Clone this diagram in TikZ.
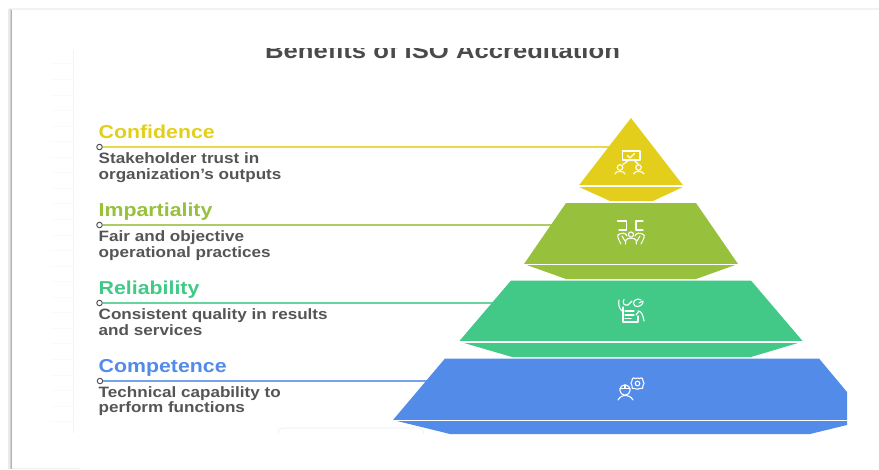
\documentclass[tikz,border=0pt]{standalone}
\usepackage{fontspec}
\setmainfont[FakeStretch=1.14]{Liberation Sans}
\definecolor{cyel}{HTML}{E3CF1B}
\definecolor{cgrn}{HTML}{97C03D}
\definecolor{cemr}{HTML}{42C987}
\definecolor{cblu}{HTML}{528BE8}
\definecolor{ctxt}{HTML}{555555}
\definecolor{ctitle}{HTML}{4A4A4A}
\tikzset{
  headtxt/.style={anchor=base west,inner sep=0pt,font=\fontsize{18.7}{20}\selectfont\bfseries},
  subtxt/.style={anchor=base west,inner sep=0pt,text=ctxt,font=\fontsize{15}{16}\selectfont\bfseries},
  dotnode/.style={circle,draw=ctxt,fill=white,line width=1pt,minimum size=5.5pt,inner sep=0pt},
  conn/.style={line width=1.2pt},
  divider/.style={draw=white,line width=1.2pt},
  icon/.style={draw=white,line width=1.1pt,line cap=round,line join=round},
  faint/.style={draw=black!5,line width=0.6pt}
}
\begin{document}
\begin{tikzpicture}[x=1pt,y=-1pt]
\useasboundingbox (0,0) rectangle (879,469);
% page shadow
\fill[black!5] (9,8) rectangle (879,10);
\fill[black!8] (8,9) rectangle (9.5,469);
\fill[black!18] (9.5,9) rectangle (10.5,469);
\fill[black!30] (10.5,10) rectangle (12,469);
\draw[black!6,line width=0.6pt] (12,468) -- (80,468);
% faint frame
\draw[faint,line width=0.9pt] (73,50) -- (73,433);
\foreach \yy in {63,79,95,110,126,141,157,172,188,203,219,235,250,266,281,297,312,328,343,359,375,390,406,421}
  \draw[black!2,line width=0.5pt] (51,\yy) -- (73,\yy);
\draw[black!8,line width=0.6pt] (278,434) .. controls (278,429) and (280,428) .. (285,428) -- (417,428) .. controls (421,428) and (423,429) .. (424,434);
% title, clipped at top
\begin{scope}
\clip (200,48.5) rectangle (700,70);
\node[anchor=base,inner sep=0pt,text=ctitle,font=\fontsize{22.5}{24}\selectfont\bfseries] (title) at (442.5,58.5) {Benefits of ISO Accreditation};
\end{scope}
% end coordinates of connectors
\coordinate (endA) at (610,147);
\coordinate (endB) at (570,225);
\coordinate (endC) at (500,303);
\coordinate (endD) at (440,381);
% dots
\node[dotnode] (dotA) at (99.5,147) {};
\node[dotnode] (dotB) at (99.5,225) {};
\node[dotnode] (dotC) at (99.5,303) {};
\node[dotnode] (dotD) at (100,381) {};
% connectors
\draw[conn,draw=cyel!80] (dotA) -- (endA);
\draw[conn,draw=cgrn!80] (dotB) -- (endB);
\draw[conn,draw=cemr!80] (dotC) -- (endC);
\draw[conn,draw=cblu!80] (dotD) -- (endD);
% texts
\node[headtxt,text=cyel] (hA) at (98.5,138.5) {Confidence};
\node[subtxt] (sA1) at (98.5,163) {Stakeholder trust in};
\node[subtxt] (sA2) at (98.5,179) {organization's outputs};
\node[headtxt,text=cgrn] (hB) at (98.5,216.5) {Impartiality};
\node[subtxt] (sB1) at (98.5,241) {Fair and objective};
\node[subtxt] (sB2) at (98.5,257) {operational practices};
\node[headtxt,text=cemr] (hC) at (98.5,294.5) {Reliability};
\node[subtxt] (sC1) at (98.5,319) {Consistent quality in results};
\node[subtxt] (sC2) at (98.5,335) {and services};
\node[headtxt,text=cblu] (hD) at (98.5,372.5) {Competence};
\node[subtxt] (sD1) at (98.5,397) {Technical capability to};
\node[subtxt] (sD2) at (98.5,412) {perform functions};
% pyramid
\fill[cyel] (631,118) -- (684,186.5) -- (653,201) -- (610,201) -- (578,186.5) -- cycle;
\draw[divider] (578,186) -- (684,186);
\fill[cgrn] (566,203) -- (696,203) -- (738,264) -- (696,279) -- (566,279) -- (524,264) -- cycle;
\draw[divider] (524,264.5) -- (738,264.5);
\fill[cemr] (511,280.5) -- (751,280.5) -- (803,341.5) -- (751,357) -- (512,357) -- (459,341.5) -- cycle;
\draw[divider] (459,342) -- (803,342);
\fill[cblu] (445,358.5) -- (819,358.5) -- (847,392) -- (847,425) -- (810,434) -- (450,434) -- (393,420) -- cycle;
\draw[divider] (393,420.5) -- (847,420.5);
% icon 1
\draw[icon] (622.5,151) rectangle (640,160);
\draw[icon] (627.5,155.5) -- (630,158) -- (634.5,153.5);
\draw[icon] (629,160) -- (623,164.5) (634,160) -- (638.5,164.5);
\draw[icon] (620,167.5) circle (2.8);
\draw[icon] (638.5,167.5) circle (2.8);
\draw[icon] (615,174) .. controls (615.5,170.5) and (624,170.5) .. (625,174);
\draw[icon] (633.5,174) .. controls (634,170.5) and (643,170.5) .. (644,174);
% icon 2
\draw[icon] (617.5,221) -- (626.5,221) -- (626.5,230) -- (619,230);
\draw[icon] (643,221) -- (636,221) -- (636,230) -- (643,230);
\draw[icon] (631,234.5) circle (2.6);
\draw[icon] (625.5,244) -- (626,240) .. controls (627,237.5) and (635,237.5) .. (636,240) -- (636.5,244);
\draw[icon] (618,235) .. controls (622,232) and (626,233) .. (627,236);
\draw[icon] (644,235) .. controls (640,232) and (636,233) .. (635,236);
\draw[icon] (618,235) .. controls (617,238) and (620,241) .. (621,244);
\draw[icon] (644,235) .. controls (645,238) and (642,241) .. (641,244);
\draw[icon] (622,236) -- (625,241);
\draw[icon] (640,236) -- (637,241);
% icon 3
\draw[icon] (623,307) -- (623,322) -- (638,322) -- (638,316);
\draw[icon] (625,311) -- (634,311) (625,315) -- (634,315) (625,318.5) -- (631,318.5);
\draw[icon] (619,300) .. controls (618,304) and (619,309) .. (623,312);
\draw[icon] (624,299.5) .. controls (622,303) and (624,306) .. (628,305) -- (632,301);
\draw[icon] (641,300) .. controls (635,297) and (631,303) .. (635,306) .. controls (639,308) and (644,304) .. (643,301) -- (639,303);
\draw[icon] (638,311) .. controls (642,311) and (643,316) .. (644,321);
\draw[icon] (636,315) -- (639,311);
% icon 4
\draw[icon] (625,390) circle (5.2);
\draw[icon] (620,388.5) -- (630,388.5);
\draw[icon] (625,385) -- (625,388);
\draw[icon] (618,400) .. controls (620,396) and (624,395.5) .. (625,395.5) .. controls (627,395.5) and (631,396) .. (633,400);
\draw[icon] (637.5,378) -- (639.5,378.5) .. controls (642,377) and (644,379) .. (643,381) .. controls (644.5,382.5) and (644.5,384) .. (643,385.5) .. controls (644,388) and (642,389.5) .. (639.5,388.5) .. controls (638,389.5) and (636.5,389.5) .. (635,388.5) .. controls (632.5,389.5) and (631,388) .. (632,385.5) .. controls (630.5,384) and (630.5,382.5) .. (632,381) .. controls (631,379) and (633,377) .. (635.5,378.5) -- cycle;
\draw[icon] (637.5,383.5) circle (2.3);
\end{tikzpicture}
\end{document}
